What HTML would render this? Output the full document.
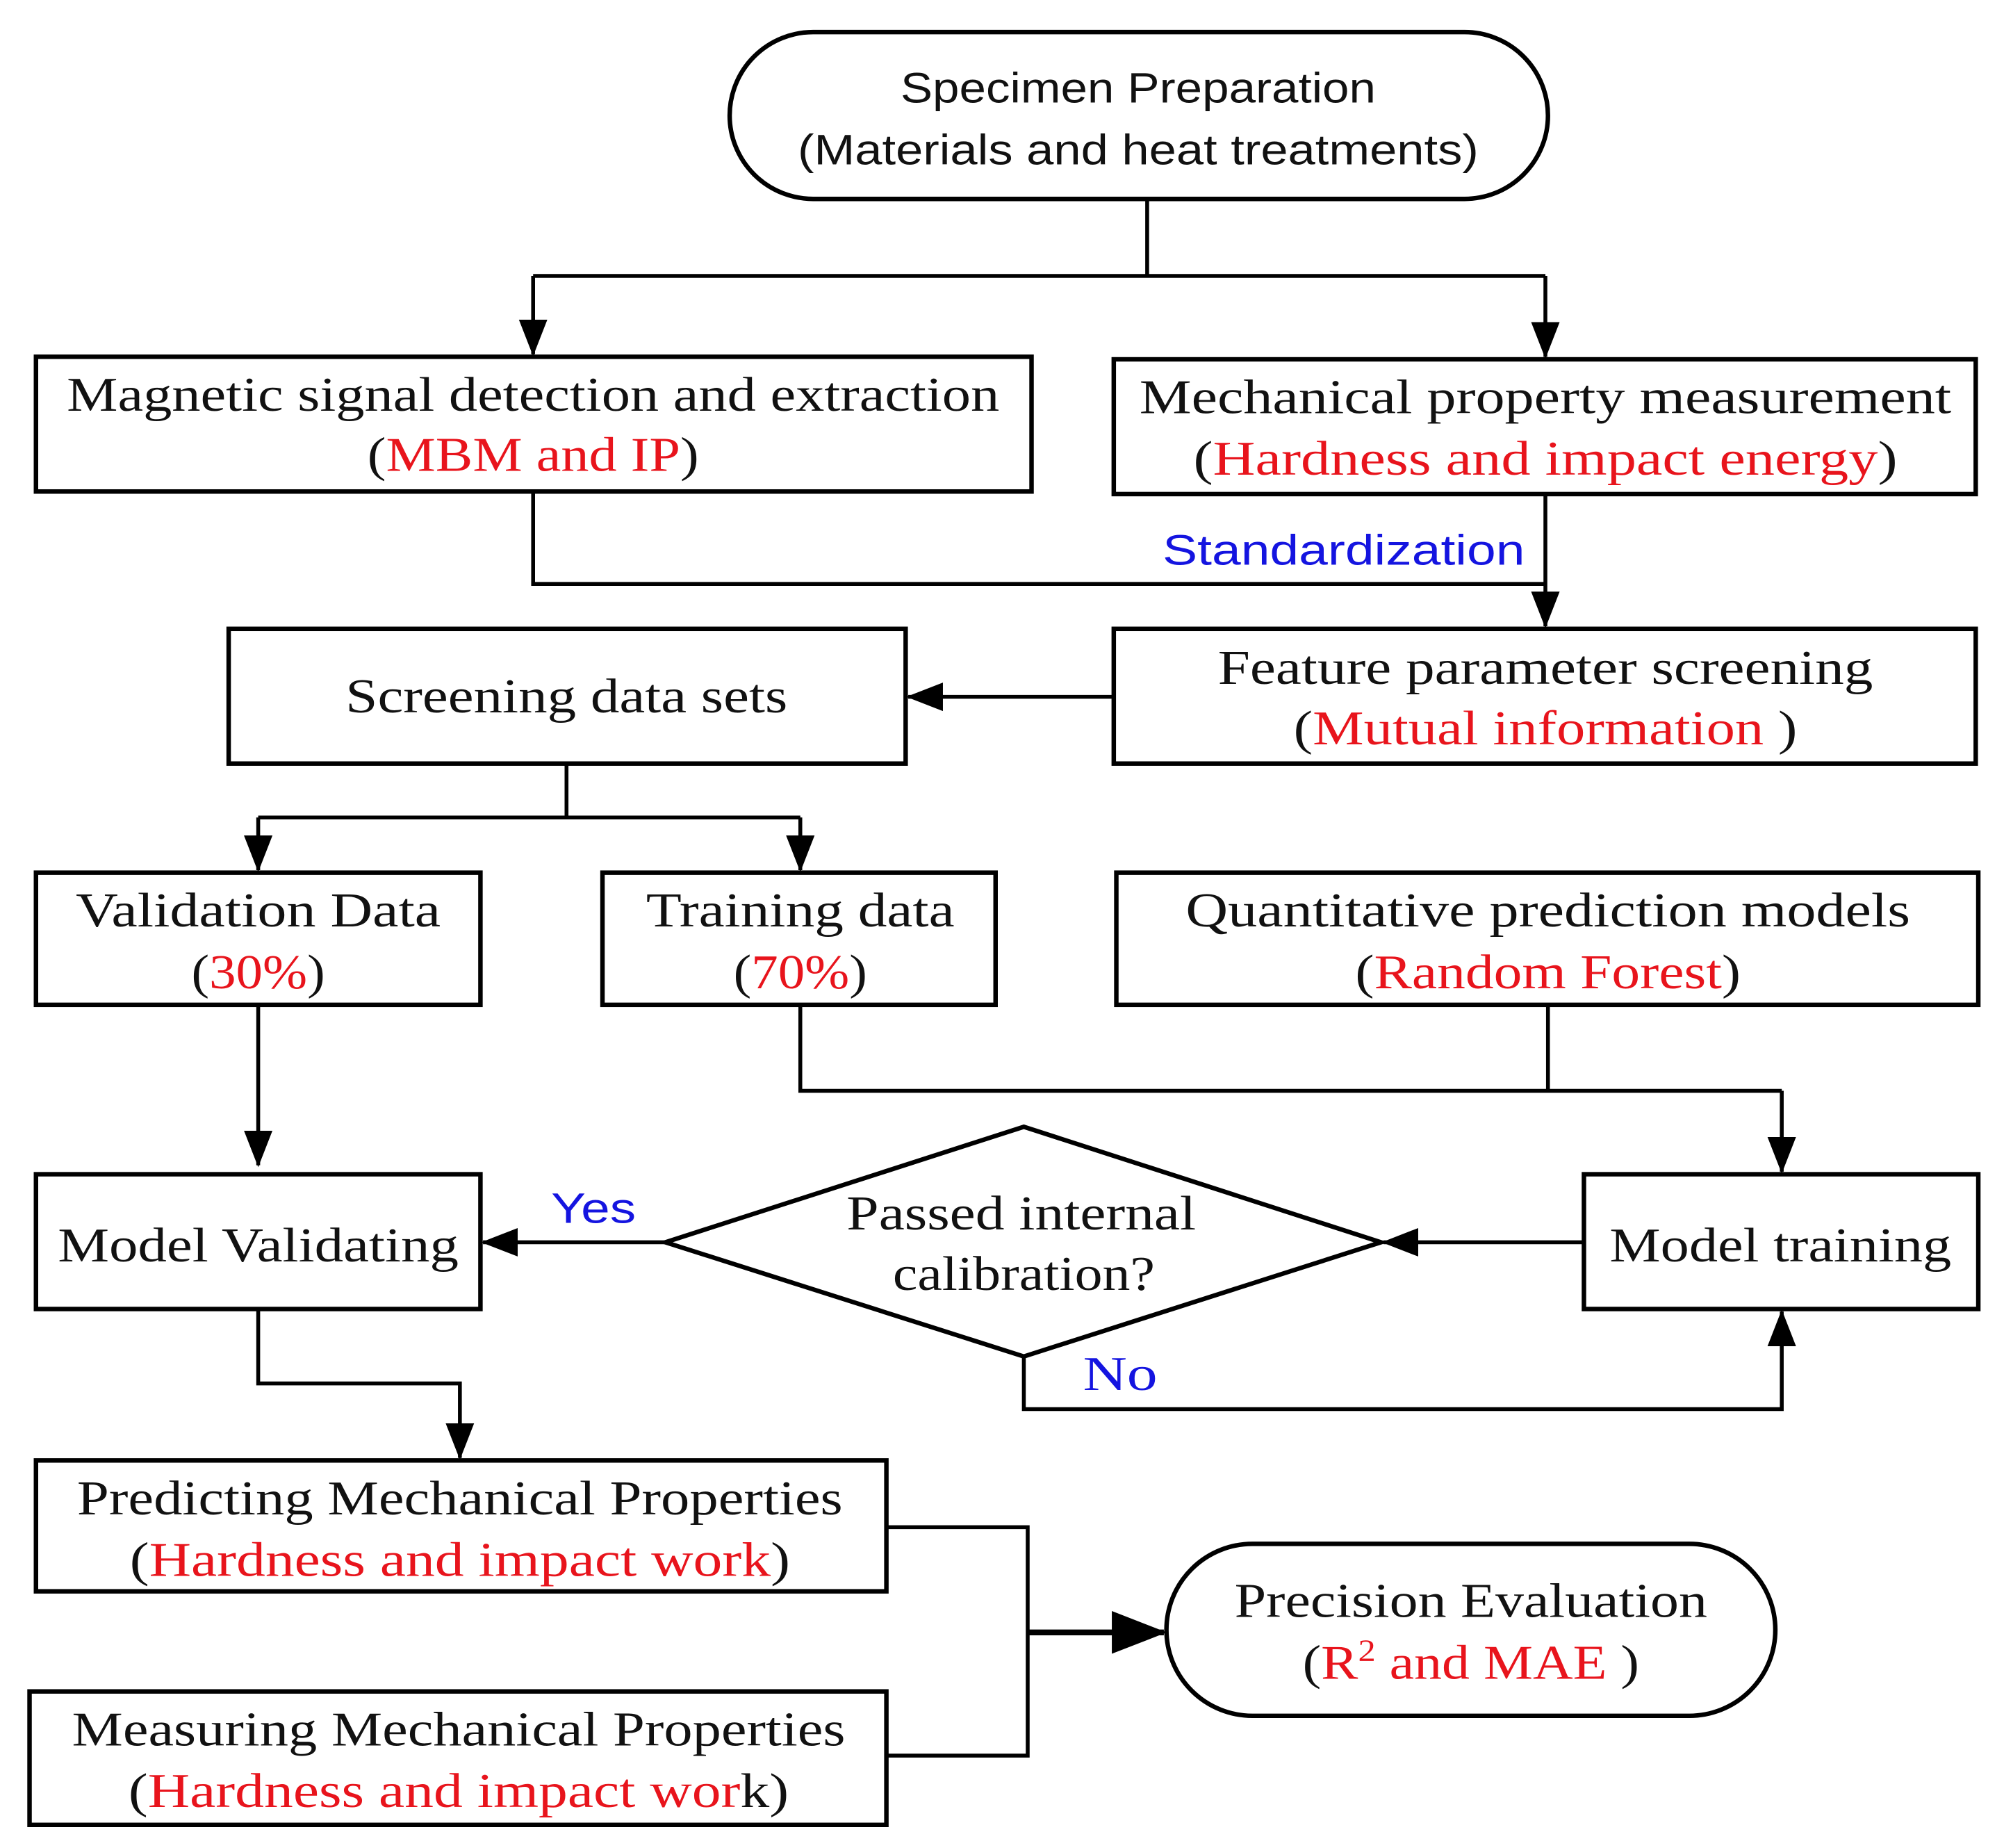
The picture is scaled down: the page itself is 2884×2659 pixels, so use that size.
<!DOCTYPE html>
<html><head><meta charset="utf-8"><style>
html,body{margin:0;padding:0;background:#fff}
svg{display:block}
.s{font-family:"Liberation Serif",serif;font-size:38px;fill:#111}
.a{font-family:"Liberation Sans",sans-serif;font-size:33px;fill:#111}
.r{fill:#e8141c}.b{fill:#1414e0}
</style></head><body>
<svg width="2884" height="2659" viewBox="0 0 1560 1440" xmlns="http://www.w3.org/2000/svg" preserveAspectRatio="none">
<defs><marker id="m" markerWidth="11" markerHeight="9" refX="9" refY="4.5" orient="auto" markerUnits="strokeWidth"><path d="M0,0.8 L9.5,4.5 L0,8.2z" fill="#000"/></marker></defs>
<g fill="none" stroke="#000" stroke-width="3.5">
<rect x="568" y="25" width="637" height="130" rx="65"/>
<rect x="28" y="278" width="775" height="105"/>
<rect x="867" y="280" width="671" height="105"/>
<rect x="867" y="490" width="671" height="105"/>
<rect x="178" y="490" width="527" height="105"/>
<rect x="28" y="680" width="346" height="103"/>
<rect x="469" y="680" width="306" height="103"/>
<rect x="869" y="680" width="671" height="103"/>
<rect x="28" y="915" width="346" height="105"/>
<polygon points="518,968 797,878 1075,968 797,1057"/>
<rect x="1233" y="915" width="307" height="105"/>
<rect x="28" y="1138" width="662" height="102"/>
<rect x="23" y="1318" width="667" height="104"/>
<rect x="908" y="1203" width="474" height="134" rx="67"/>
</g>
<g fill="none" stroke="#000" stroke-width="3">
<path d="M893,155 V215 M415,215 H1203"/>
<path d="M415,215 V276" marker-end="url(#m)"/>
<path d="M1203,215 V278" marker-end="url(#m)"/>
<path d="M415,383 V455 H1203"/>
<path d="M1203,385 V488" marker-end="url(#m)"/>
<path d="M867,543 H707" marker-end="url(#m)"/>
<path d="M441,595 V637 M201,637 H623"/>
<path d="M201,637 V678" marker-end="url(#m)"/>
<path d="M623,637 V678" marker-end="url(#m)"/>
<path d="M623,783 V850 H1387 M1205,783 V850"/>
<path d="M1387,850 V913" marker-end="url(#m)"/>
<path d="M201,783 V908" marker-end="url(#m)"/>
<path d="M1233,968 H1077" marker-end="url(#m)"/>
<path d="M518,968 H376" marker-end="url(#m)"/>
<path d="M797,1057 V1098 H1387 V1022" marker-end="url(#m)"/>
<path d="M201,1020 V1078 H358 V1136" marker-end="url(#m)"/>
<path d="M690,1190 H800 V1368 H690"/>
<path d="M800,1272 H906" stroke-width="4.5" marker-end="url(#m)"/>
</g>
<g text-anchor="middle">
<text class="a" x="886" y="80" textLength="370" lengthAdjust="spacingAndGlyphs">Specimen Preparation</text>
<text class="a" x="886" y="128" textLength="530" lengthAdjust="spacingAndGlyphs">(Materials and heat treatments)</text>
<text class="s" x="415" y="320" textLength="726" lengthAdjust="spacingAndGlyphs">Magnetic signal detection and extraction</text>
<text class="s" x="415" y="367" textLength="258" lengthAdjust="spacingAndGlyphs">(<tspan class="r">MBM and IP</tspan>)</text>
<text class="s" x="1203" y="322" textLength="632" lengthAdjust="spacingAndGlyphs">Mechanical property measurement</text>
<text class="s" x="1203" y="370" textLength="548" lengthAdjust="spacingAndGlyphs">(<tspan class="r">Hardness and impact energy</tspan>)</text>
<text class="a b" x="1046" y="440" textLength="282" lengthAdjust="spacingAndGlyphs">Standardization</text>
<text class="s" x="1203" y="533" textLength="510" lengthAdjust="spacingAndGlyphs">Feature parameter screening</text>
<text class="s" x="1203" y="580" textLength="392" lengthAdjust="spacingAndGlyphs">(<tspan class="r">Mutual information </tspan>)</text>
<text class="s" x="441" y="555" textLength="344" lengthAdjust="spacingAndGlyphs">Screening data sets</text>
<text class="s" x="201" y="722" textLength="284" lengthAdjust="spacingAndGlyphs">Validation  Data</text>
<text class="s" x="201" y="770" textLength="104" lengthAdjust="spacingAndGlyphs">(<tspan class="r">30%</tspan>)</text>
<text class="s" x="623" y="722" textLength="240" lengthAdjust="spacingAndGlyphs">Training data</text>
<text class="s" x="623" y="770" textLength="104" lengthAdjust="spacingAndGlyphs">(<tspan class="r">70%</tspan>)</text>
<text class="s" x="1205" y="722" textLength="564" lengthAdjust="spacingAndGlyphs">Quantitative  prediction  models</text>
<text class="s" x="1205" y="770" textLength="300" lengthAdjust="spacingAndGlyphs">(<tspan class="r">Random Forest</tspan>)</text>
<text class="s" x="201" y="983" textLength="312" lengthAdjust="spacingAndGlyphs">Model Validating</text>
<text class="a b" x="462" y="953" textLength="66" lengthAdjust="spacingAndGlyphs">Yes</text>
<text class="s" x="795" y="958" textLength="272" lengthAdjust="spacingAndGlyphs">Passed internal</text>
<text class="s" x="797" y="1005" textLength="204" lengthAdjust="spacingAndGlyphs">calibration?</text>
<text class="s" x="1386" y="983" textLength="266" lengthAdjust="spacingAndGlyphs">Model training</text>
<text class="s b" x="872" y="1083" textLength="58" lengthAdjust="spacingAndGlyphs">No</text>
<text class="s" x="358" y="1180" textLength="596" lengthAdjust="spacingAndGlyphs">Predicting Mechanical Properties</text>
<text class="s" x="358" y="1228" textLength="514" lengthAdjust="spacingAndGlyphs">(<tspan class="r">Hardness and impact work</tspan>)</text>
<text class="s" x="357" y="1360" textLength="602" lengthAdjust="spacingAndGlyphs">Measuring Mechanical Properties</text>
<text class="s" x="357" y="1408" textLength="514" lengthAdjust="spacingAndGlyphs">(<tspan class="r">Hardness and impact wor</tspan>k)</text>
<text class="s" x="1145" y="1260" textLength="368" lengthAdjust="spacingAndGlyphs">Precision Evaluation</text>
<text class="s" x="1145" y="1308" textLength="262" lengthAdjust="spacingAndGlyphs">(<tspan class="r">R<tspan dy="-14" font-size="24">2</tspan><tspan dy="14"> and MAE </tspan></tspan>)</text>
</g>
</svg>
</body></html>
